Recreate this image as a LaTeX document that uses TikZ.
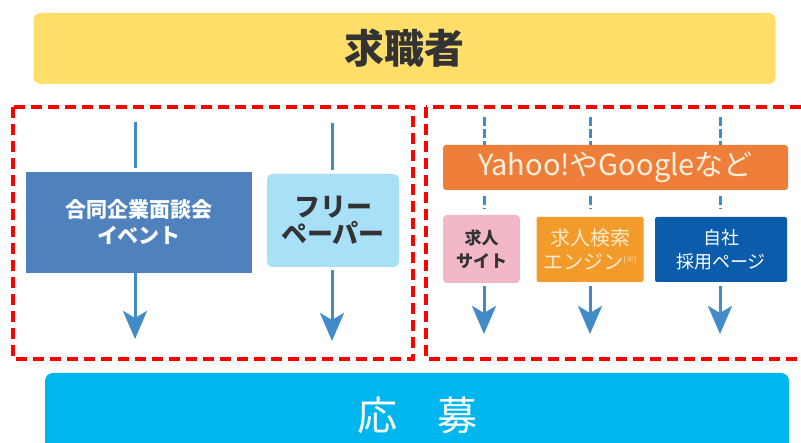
\documentclass[tikz,border=0pt]{standalone}
\usepackage{fontspec}
\setmainfont{Noto Sans CJK JP}
\usetikzlibrary{arrows.meta}

\definecolor{seekerbg}{RGB}{255,223,106}
\definecolor{applybg}{RGB}{0,182,239}
\definecolor{eventbg}{RGB}{79,129,189}
\definecolor{paperbg}{RGB}{168,224,248}
\definecolor{yahoobg}{RGB}{239,126,58}
\definecolor{sitebg}{RGB}{243,184,200}
\definecolor{enginebg}{RGB}{243,155,42}
\definecolor{ownbg}{RGB}{11,93,171}
\definecolor{flowblue}{RGB}{66,139,202}
\definecolor{darktext}{RGB}{51,51,51}

\begin{document}
\begin{tikzpicture}[x=1pt, y=-1pt,
	box/.style={inner sep=0pt, align=center, text=white},
	flow/.style={draw=flowblue, line width=3pt},
	flowarrow/.style={flow, -{Stealth[length=28pt, width=24pt, inset=7pt]}},
	group/.style={draw=red, line width=3.5pt, dash pattern=on 11pt off 6pt}]
		\clip (0,0) rectangle (801,443);
		
		% Top and bottom bars
		\node[box, fill=seekerbg, rounded corners=7pt, minimum width=742pt, minimum height=71pt, text=darktext,
			font=\fontsize{40}{44}\selectfont\bfseries] (seeker) at (404.5,48.5) {求職者};
		\node[box, fill=applybg, rounded corners=8pt, minimum width=744pt, minimum height=84pt,
			font=\fontsize{40}{44}\selectfont] (apply) at (417,415) {応　募};
		
		% Dashed groups
		\draw[group] (13,107) rectangle (413,359);
		\draw[group] (426,107) rectangle (812,359);
		
		% Left group
		\node[box, fill=eventbg, minimum width=226pt, minimum height=101pt,
			font=\fontsize{21}{26}\selectfont\bfseries] (event) at (139,222.5) {合同企業面談会\\イベント};
		\node[box, fill=paperbg, rounded corners=5pt, minimum width=132pt, minimum height=93pt, text=darktext,
			font=\fontsize{26}{27}\selectfont\bfseries] (paper) at (333,220.5) {フリー\\ペーパー};
		
		\coordinate (inL1) at (135,122);
		\coordinate (inL2) at (332,123);
		\coordinate (outL1) at (135,339);
		\coordinate (outL2) at (332,341);
		\draw[flow, shorten >=4pt] (inL1) -- (inL1 |- event.north);
		\draw[flow, shorten >=4pt] (inL2) -- (inL2 |- paper.north);
		\draw[flowarrow] (outL1 |- event.south) -- (outL1);
		\draw[flowarrow, shorten <=3pt] (outL2 |- paper.south) -- (outL2);
		
		% Right group
		\node[box, fill=yahoobg, rounded corners=3pt, minimum width=345pt, minimum height=45pt, text={rgb,255:red,255;green,240;blue,220},
			font=\fontsize{29}{30}\selectfont] (yahoo) at (615.5,167.5) {Yahoo!やGoogleなど};
		\node[box, fill=sitebg, rounded corners=4pt, minimum width=77pt, minimum height=68pt, text=darktext,
			font=\fontsize{17}{23}\selectfont\bfseries] (site) at (481.5,249) {求人\\サイト};
		\node[box, fill=enginebg, rounded corners=2pt, minimum width=107pt, minimum height=65pt, text={rgb,255:red,253;green,235;blue,208},
			font=\fontsize{20}{24}\selectfont] (engine) at (590,249.5) {求人検索\\エンジン\raisebox{7pt}{\fontsize{8}{8}\selectfont(※)}};
		\node[box, fill=ownbg, rounded corners=2pt, minimum width=132pt, minimum height=65pt,
			font=\fontsize{18}{24}\selectfont] (own) at (721,249.5) {自社\\採用ページ};
		
		\foreach \name/\x in {R1/484, R2/590, R3/720} {
			\coordinate (in\name) at (\x,117);
			\coordinate (out\name) at (\x,334);
			\draw[flow, dash pattern=on 9pt off 3pt] (in\name) -- (in\name |- yahoo.north) ;
			\draw[flow, dash pattern=on 9pt off 3pt, shorten <=6pt, shorten >=6pt] (in\name |- yahoo.south) -- (in\name |- site.north);
			\draw[flowarrow, shorten <=4pt] (out\name |- engine.south) -- (out\name);
		}
	\end{tikzpicture}
\end{document}
